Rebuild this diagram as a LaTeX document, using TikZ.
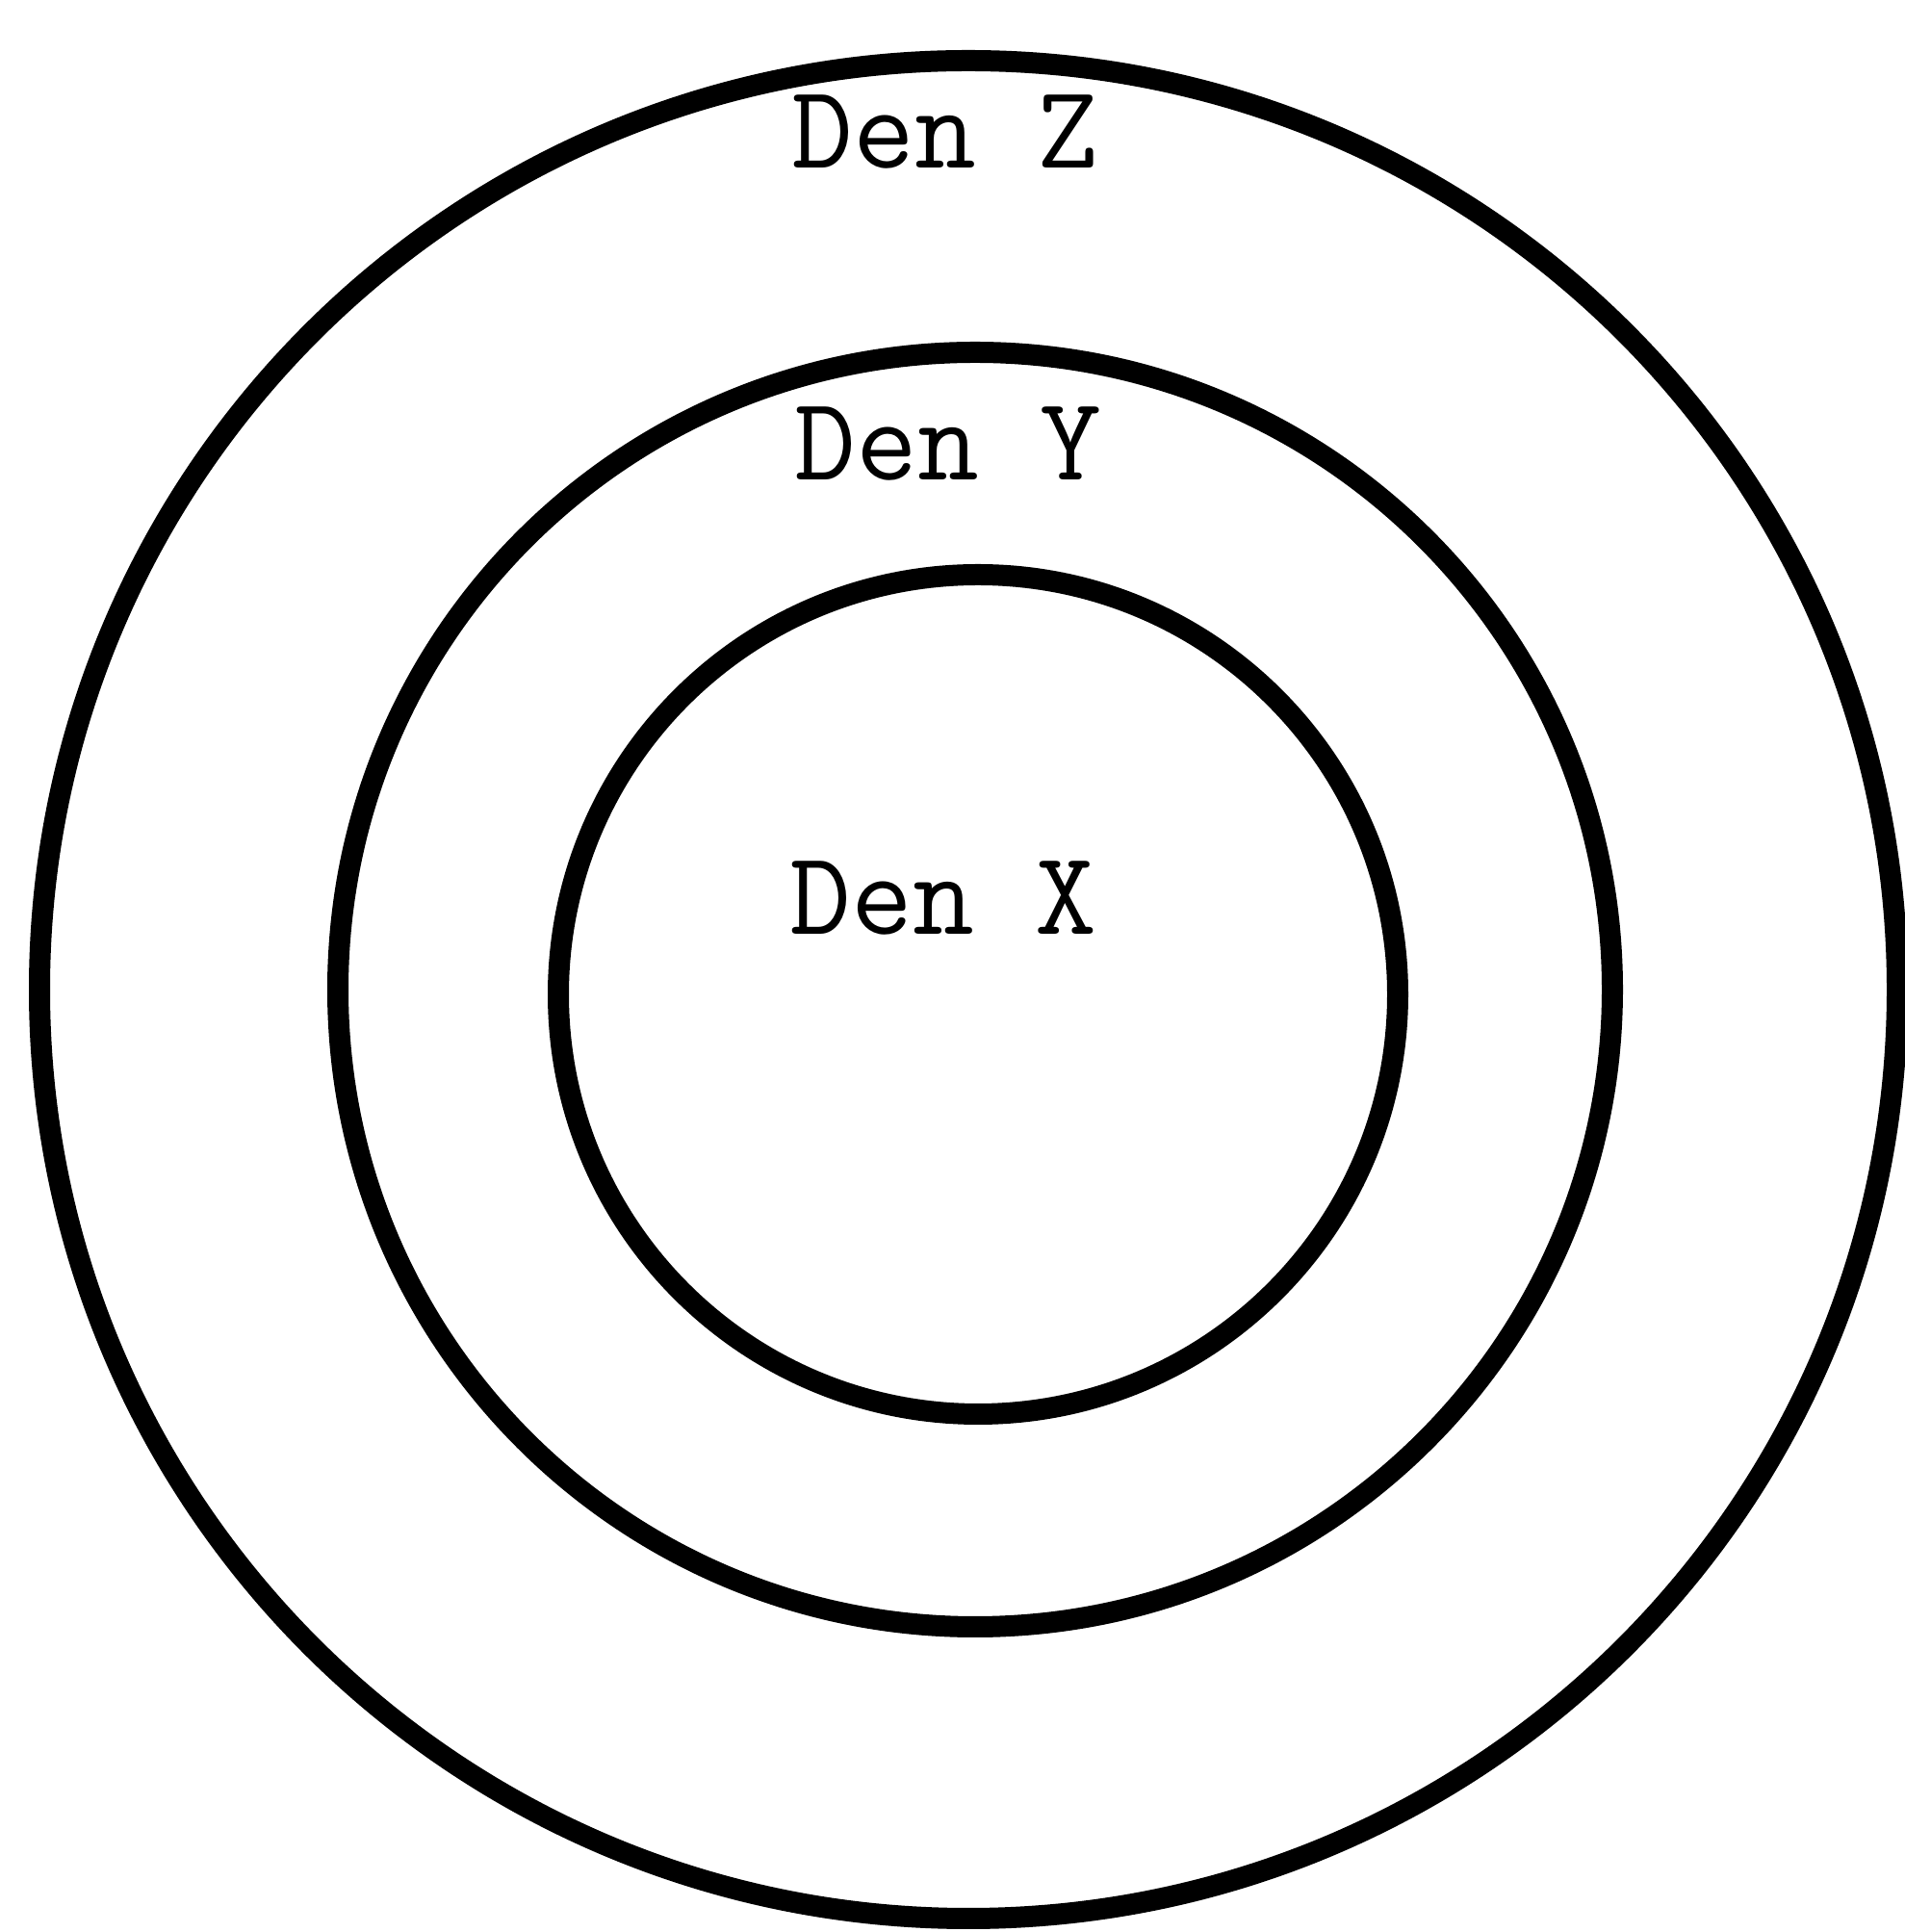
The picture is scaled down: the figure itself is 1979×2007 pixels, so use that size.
\documentclass[tikz,border=0pt]{standalone}
\usepackage{tikz}
\usetikzlibrary{positioning}
\tikzset{
  anillo/.style={draw=black,line width=11pt},
  rotulo/.style={font=\fontsize{62}{66}\selectfont\ttfamily,inner sep=0pt,anchor=center}
}
\begin{document}
\begin{tikzpicture}[x=0.5pt,y=0.5pt]
\useasboundingbox (0,0) rectangle (1979,2007);
\coordinate (cz) at (1006,979);
\coordinate (cy) at (1013,979);
\coordinate (cx) at (1016,974);
\draw[anillo] (cz) circle[radius=965];
\draw[anillo] (cy) circle[radius=662];
\draw[anillo] (cx) circle[radius=436];
\node[rotulo] (z) at (982,1870) {Den Z};
\node[rotulo] (y) at (985,1546) {Den Y};
\node[rotulo] (x) at (980,1074) {Den X};
\end{tikzpicture}
\end{document}
